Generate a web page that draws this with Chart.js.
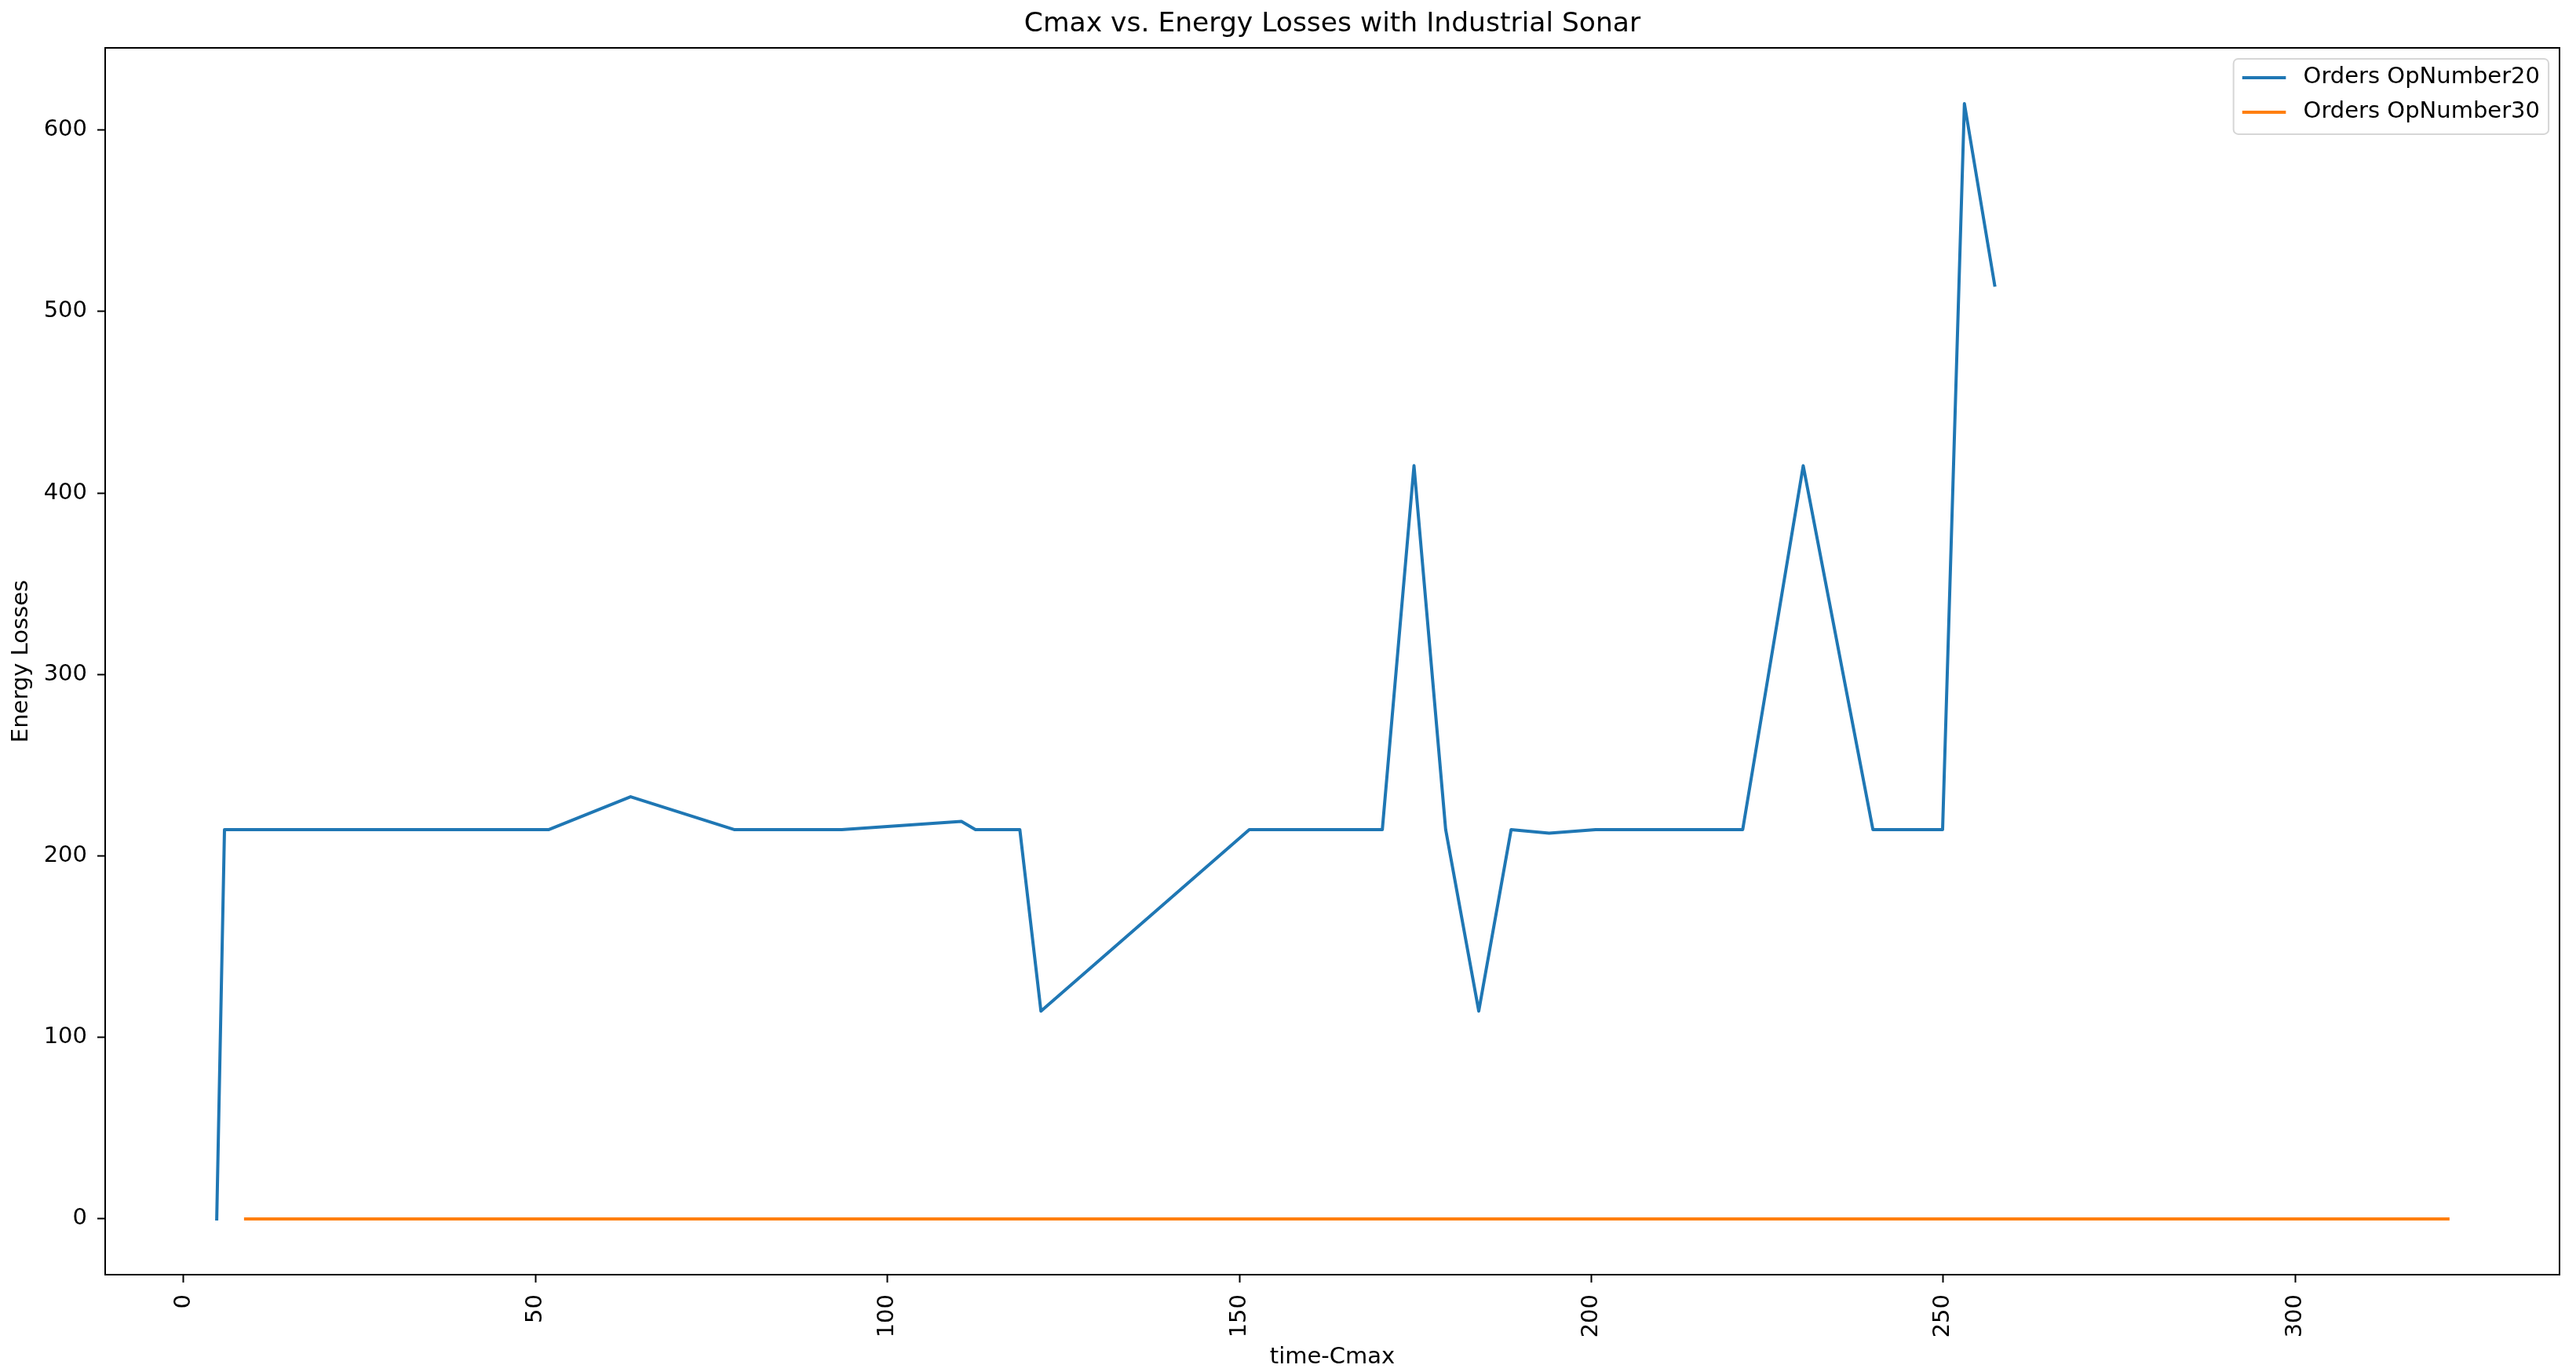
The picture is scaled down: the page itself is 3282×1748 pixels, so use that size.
<!DOCTYPE html>
<html>
<head>
<meta charset="utf-8">
<script src="https://cdn.jsdelivr.net/npm/chart.js@4.4.1/dist/chart.umd.min.js"></script>
<style>
  html, body { margin: 0; padding: 0; background: #fff; }
  canvas { display: block; }
</style>
</head>
<body>
<canvas id="chart" width="3282" height="1748"></canvas>
<script>
// values
const seriesNames = ['Orders OpNumber20', 'Orders OpNumber30']
const seriesColors = ['#1f77b4', '#ff7f0e']

const op20X = [4.7, 5.8, 51.9, 63.5, 78.2, 93.5, 110.5, 112.5, 118.8, 121.8, 151.4, 170.3,
               174.8, 179.3, 184.0, 188.6, 194.0, 200.6, 221.5, 230.1, 240.0, 249.9, 253.0, 257.3]
const op20Y = [0, 214.5, 214.5, 232.6, 214.5, 214.5, 219.0, 214.5, 214.5, 114.5, 214.5, 214.5,
               415.0, 214.5, 114.5, 214.5, 212.5, 214.5, 214.5, 415.0, 214.5, 214.5, 614.5, 514.5]

const op30X = [8.8, 321.7]
const op30Y = [0, 0]

const xTicks = [0, 50, 100, 150, 200, 250, 300]
const yTicks = [0, 100, 200, 300, 400, 500, 600]

const FONT = 'DejaVu Sans'
const FS = 29

// matplotlib-style 5% margins around the data
function range(arrs) {
    const all = [].concat(...arrs)
    const lo = Math.min(...all), hi = Math.max(...all)
    const m = (hi - lo) * 0.05
    return [lo - m, hi + m]
}
const [xMin, xMax] = range([op20X, op30X])
const [yMin, yMax] = range([op20Y, op30Y])

const toPoints = (xs, ys) => xs.map((x, i) => ({ x, y: ys[i] }))

// top + right spines
const frame = {
    id: 'frame',
    afterDraw(chart) {
        const { ctx, chartArea: a } = chart
        ctx.save()
        ctx.strokeStyle = '#000'
        ctx.lineWidth = 2
        ctx.beginPath()
        ctx.moveTo(a.left, a.top)
        ctx.lineTo(a.right, a.top)
        ctx.lineTo(a.right, a.bottom)
        ctx.stroke()
        ctx.restore()
    }
}

// legend box inside the axes, upper right
const boxLegend = {
    id: 'boxLegend',
    afterDraw(chart) {
        const { ctx, chartArea: a } = chart
        const em = 27.8
        const pad = 0.4 * em, handle = 2 * em, textPad = 0.8 * em, rowH = 44
        const sets = chart.data.datasets
        ctx.save()
        ctx.font = `${FS}px "${FONT}"`
        const textW = Math.max(...sets.map(d => ctx.measureText(d.label).width))
        const w = pad + handle + textPad + textW + pad
        const h = rowH * sets.length + 8
        const x = a.right - 0.5 * em - w
        const y = a.top + 0.5 * em
        ctx.beginPath()
        ctx.roundRect(x, y, w, h, 6)
        ctx.fillStyle = 'rgba(255,255,255,0.8)'
        ctx.fill()
        ctx.strokeStyle = '#d6d6d6'
        ctx.lineWidth = 2
        ctx.stroke()
        sets.forEach((d, i) => {
            const cy = y + 24 + i * rowH
            ctx.strokeStyle = d.borderColor
            ctx.lineWidth = 4
            ctx.beginPath()
            ctx.moveTo(x + pad, cy)
            ctx.lineTo(x + pad + handle, cy)
            ctx.stroke()
            ctx.fillStyle = '#000'
            ctx.textBaseline = 'middle'
            ctx.textAlign = 'left'
            ctx.fillText(d.label, x + pad + handle + textPad, cy)
        })
        ctx.restore()
    }
}

const lineStyle = color => ({
    borderColor: color,
    backgroundColor: color,
    borderWidth: 4,
    pointRadius: 0,
    tension: 0,
    fill: false,
    borderJoinStyle: 'round',
    borderCapStyle: 'square'
})

const tickGrid = { drawOnChartArea: false, drawTicks: true, tickLength: 10, tickWidth: 2, tickColor: '#000' }

new Chart(document.getElementById('chart'), {
    type: 'line',
    data: {
        datasets: [
            { label: seriesNames[0], data: toPoints(op20X, op20Y), ...lineStyle(seriesColors[0]) },
            { label: seriesNames[1], data: toPoints(op30X, op30Y), ...lineStyle(seriesColors[1]) }
        ]
    },
    options: {
        responsive: false,
        devicePixelRatio: 1,
        animation: false,
        layout: { padding: { top: 0, right: 21, bottom: 0, left: 0 } },
        plugins: {
            legend: { display: false },
            tooltip: { enabled: false },
            title: {
                display: true,
                text: 'Cmax vs. Energy Losses with Industrial Sonar',
                fullSize: false,
                color: '#000',
                font: { family: FONT, size: 34.5, weight: 'normal', lineHeight: 1.2 },
                padding: { top: 10, bottom: 9.6 }
            }
        },
        scales: {
            x: {
                type: 'linear',
                min: xMin,
                max: xMax,
                afterBuildTicks: s => { s.ticks = xTicks.map(v => ({ value: v })) },
                afterFit: s => { s.height = 124 },
                border: { color: '#000', width: 2 },
                grid: tickGrid,
                ticks: {
                    minRotation: 90,
                    maxRotation: 90,
                    padding: 15,
                    color: '#000',
                    font: { family: FONT, size: FS }
                },
                title: {
                    display: true,
                    text: 'time-Cmax',
                    color: '#000',
                    font: { family: FONT, size: FS, lineHeight: 1.2 },
                    padding: { top: 0, bottom: 1 }
                }
            },
            y: {
                type: 'linear',
                min: yMin,
                max: yMax,
                afterBuildTicks: s => { s.ticks = yTicks.map(v => ({ value: v })) },
                afterFit: s => { s.width = 134 },
                border: { color: '#000', width: 2 },
                grid: tickGrid,
                ticks: {
                    padding: 13,
                    color: '#000',
                    font: { family: FONT, size: FS }
                },
                title: {
                    display: true,
                    text: 'Energy Losses',
                    color: '#000',
                    font: { family: FONT, size: FS, lineHeight: 1.2 },
                    padding: { top: 10, bottom: 0 }
                }
            }
        }
    },
    plugins: [frame, boxLegend]
})
</script>
</body>
</html>
